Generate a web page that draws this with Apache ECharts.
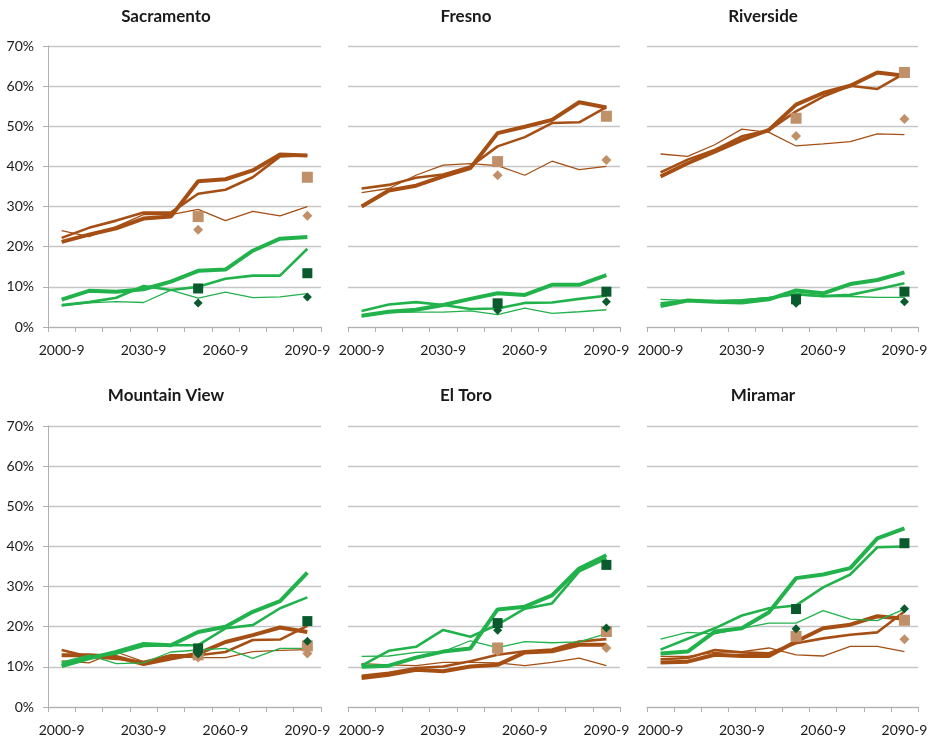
<!DOCTYPE html>
<html>
<head>
<meta charset="utf-8">
<script src="https://cdn.jsdelivr.net/npm/echarts@6/dist/echarts.min.js"></script>
<style>
  html, body { margin: 0; padding: 0; background: #fff; }
  #chart { width: 934px; height: 741px; }
</style>
</head>
<body>
<div id="chart"></div>
<script>
    "use strict";

    var decades = ['2000-9', '2010-9', '2020-9', '2030-9', '2040-9', '2050-9', '2060-9', '2070-9', '2080-9', '2090-9'];
    var markerCats = ['2050-9', '2090-9'];

    /*---- Sacramento ----*/
    var sacB1 = [21.2, 23.0, 24.6, 27.0, 27.5, 36.3, 36.8, 39.0, 43.0, 42.7];
    var sacB2 = [22.2, 24.7, 26.5, 28.5, 28.5, 33.2, 34.2, 37.3, 42.5, 42.8];
    var sacB3 = [24.0, 22.5, 25.0, 28.0, 28.0, 29.3, 26.5, 28.8, 27.7, 30.0];
    var sacG1 = [6.8, 9.0, 8.8, 9.4, 11.3, 14.0, 14.3, 19.0, 22.0, 22.4];
    var sacG2 = [5.5, 6.2, 7.3, 10.2, 9.2, 10.0, 12.0, 12.8, 12.8, 19.5];
    var sacG3 = [5.2, 6.0, 6.3, 6.1, 9.2, 7.2, 8.7, 7.3, 7.5, 8.3];
    var sacBSq = [27.5, 37.3];
    var sacBDia = [24.2, 27.7];
    var sacGSq = [9.6, 13.4];
    var sacGDia = [6.0, 7.5];

    /*---- Fresno ----*/
    var freB1 = [30.0, 34.0, 35.2, 37.5, 39.6, 48.3, 49.9, 51.6, 56.0, 54.7];
    var freB2 = [34.5, 35.4, 37.2, 38.0, 40.0, 45.0, 47.3, 50.8, 51.0, 54.8];
    var freB3 = [33.5, 34.5, 37.8, 40.3, 40.7, 40.2, 37.8, 41.3, 39.2, 40.0];
    var freG1 = [2.8, 3.8, 4.3, 5.5, 7.0, 8.4, 8.0, 10.5, 10.5, 12.9];
    var freG2 = [4.0, 5.6, 6.2, 5.5, 4.5, 4.6, 6.0, 6.1, 7.0, 7.8];
    var freG3 = [2.6, 3.6, 3.7, 3.7, 4.0, 3.1, 4.7, 3.4, 3.8, 4.3];
    var freBSq = [41.2, 52.5];
    var freBDia = [37.8, 41.6];
    var freGSq = [5.9, 8.8];
    var freGDia = [4.2, 6.3];

    /*---- Riverside ----*/
    var rivB1 = [37.5, 40.8, 43.7, 46.6, 49.1, 55.4, 58.3, 60.1, 63.4, 62.6];
    var rivB2 = [38.5, 41.7, 44.1, 47.5, 49.0, 53.7, 57.4, 60.1, 59.3, 63.2];
    var rivB3 = [43.1, 42.5, 45.4, 49.3, 48.5, 45.1, 45.6, 46.2, 48.1, 47.9];
    var rivG1 = [5.2, 6.6, 6.3, 6.1, 6.9, 9.1, 8.4, 10.7, 11.7, 13.6];
    var rivG2 = [5.9, 6.6, 6.3, 6.6, 7.2, 8.2, 7.7, 8.0, 9.4, 10.9];
    var rivG3 = [6.9, 6.6, 6.6, 6.8, 7.4, 8.0, 7.6, 7.6, 7.4, 7.4];
    var rivBSq = [52.0, 63.4];
    var rivBDia = [47.6, 51.8];
    var rivGSq = [6.9, 8.8];
    var rivGDia = [5.9, 6.3];

    /*---- Mountain View ----*/
    var mtvB1 = [12.9, 12.9, 12.5, 10.7, 12.1, 13.3, 16.2, 17.9, 19.8, 18.7];
    var mtvB2 = [14.2, 12.5, 12.0, 11.2, 12.9, 12.9, 13.7, 16.7, 16.8, 20.2];
    var mtvB3 = [11.5, 11.0, 13.7, 11.3, 12.5, 12.3, 12.3, 13.8, 14.1, 14.3];
    var mtvG1 = [10.2, 12.1, 13.7, 15.7, 15.4, 18.7, 20.0, 23.7, 26.4, 33.5];
    var mtvG2 = [10.8, 12.5, 13.3, 15.2, 15.4, 15.4, 19.6, 20.4, 24.6, 27.3];
    var mtvG3 = [11.2, 12.9, 10.8, 11.0, 13.7, 14.2, 14.6, 12.1, 14.6, 14.6];
    var mtvBSq = [13.0, 15.2];
    var mtvBDia = [12.3, 13.3];
    var mtvGSq = [14.6, 21.4];
    var mtvGDia = [13.2, 16.4];

    /*---- El Toro ----*/
    var eltB1 = [7.2, 8.0, 9.3, 8.9, 10.1, 10.5, 13.6, 13.9, 15.5, 15.5];
    var eltB2 = [7.8, 8.5, 9.7, 10.1, 11.4, 13.0, 13.9, 14.3, 16.3, 16.9];
    var eltB3 = [10.8, 10.5, 10.3, 11.1, 11.1, 11.0, 10.3, 11.1, 12.2, 10.3];
    var eltG1 = [10.0, 10.3, 12.3, 13.8, 14.6, 24.3, 25.0, 27.8, 34.5, 37.8];
    var eltG2 = [10.3, 14.0, 15.0, 19.2, 17.5, 20.5, 24.5, 25.8, 33.8, 37.0];
    var eltG3 = [12.6, 12.7, 13.6, 13.8, 16.5, 14.8, 16.3, 16.0, 16.2, 18.3];
    var eltBSq = [14.7, 18.8];
    var eltBDia = [13.9, 14.7];
    var eltGSq = [20.9, 35.4];
    var eltGDia = [19.1, 19.7];

    /*---- Miramar ----*/
    var mirB1 = [11.1, 11.3, 13.0, 12.7, 12.7, 16.3, 19.6, 20.5, 22.6, 22.0];
    var mirB2 = [11.9, 12.2, 14.2, 13.6, 13.4, 15.9, 17.1, 18.0, 18.6, 23.8];
    var mirB3 = [12.6, 12.6, 13.6, 13.8, 14.7, 13.0, 12.7, 15.1, 15.1, 13.8];
    var mirG1 = [13.3, 13.8, 18.8, 19.6, 23.6, 32.1, 33.0, 34.6, 42.0, 44.5];
    var mirG2 = [14.3, 17.0, 19.6, 22.8, 24.6, 25.3, 29.8, 33.0, 39.8, 40.0];
    var mirG3 = [16.9, 18.6, 18.2, 19.6, 20.9, 20.9, 24.0, 21.9, 21.5, 24.4];
    var mirBSq = [17.6, 21.6];
    var mirBDia = [18.4, 16.9];
    var mirGSq = [24.4, 40.8];
    var mirGDia = [19.5, 24.5];

    var titles = ['Sacramento', 'Fresno', 'Riverside', 'Mountain View', 'El Toro', 'Miramar'];
    var panels = [
        [sacB1, sacB2, sacB3, sacG1, sacG2, sacG3, sacBSq, sacBDia, sacGSq, sacGDia],
        [freB1, freB2, freB3, freG1, freG2, freG3, freBSq, freBDia, freGSq, freGDia],
        [rivB1, rivB2, rivB3, rivG1, rivG2, rivG3, rivBSq, rivBDia, rivGSq, rivGDia],
        [mtvB1, mtvB2, mtvB3, mtvG1, mtvG2, mtvG3, mtvBSq, mtvBDia, mtvGSq, mtvGDia],
        [eltB1, eltB2, eltB3, eltG1, eltG2, eltG3, eltBSq, eltBDia, eltGSq, eltGDia],
        [mirB1, mirB2, mirB3, mirG1, mirG2, mirG3, mirBSq, mirBDia, mirGSq, mirGDia]
    ];

    var brown = '#a64f14', green = '#22b24c', lightBrown = '#c09069', darkGreen = '#0a5a2e';
    var widths = [4, 2.6, 1.3];
    var gridLefts = [48, 348, 647], gridWidths = [273, 272, 271];
    var titleCenters = [166, 466, 763];
    var gridTops = [46, 426];
    var font = 'Lato, "Open Sans", sans-serif';

    var grids = [], xAxes = [], yAxes = [], titleOpts = [], series = [];

    function markerData(vals) {
        return markerCats.map(function (c, k) { return [c, vals[k]]; });
    }

    panels.forEach(function (p, i) {
        var col = i % 3, row = Math.floor(i / 3);
        grids.push({left: gridLefts[col], top: gridTops[row], width: gridWidths[col], height: 281});
        titleOpts.push({
            text: titles[i],
            left: titleCenters[col],
            top: row === 0 ? 8 : 387,
            textAlign: 'center',
            padding: 0,
            textStyle: {fontFamily: font, fontSize: 17, fontWeight: 'bold', color: '#1a1a1a'}
        });
        xAxes.push({
            gridIndex: i,
            type: 'category',
            data: decades,
            boundaryGap: true,
            axisLine: {lineStyle: {color: '#b0b0b0', width: 1}},
            axisTick: {show: true, interval: 0, length: 5, lineStyle: {color: '#b0b0b0'}},
            axisLabel: {interval: 2, color: '#1a1a1a', fontSize: 14, fontFamily: font, margin: 16},
            splitLine: {show: false}
        });
        yAxes.push({
            gridIndex: i,
            type: 'value',
            min: 0,
            max: 70,
            interval: 10,
            axisLine: {show: col === 0, lineStyle: {color: '#b0b0b0'}},
            axisTick: {show: col === 0, length: 5, lineStyle: {color: '#b0b0b0'}},
            axisLabel: {show: col === 0, formatter: '{value}%', color: '#1a1a1a', fontSize: 14, fontFamily: font, margin: 14},
            splitLine: {lineStyle: {color: '#c6c6c6', width: 1.3}}
        });

        // brown lines first, then green
        [0, 1, 2, 3, 4, 5].forEach(function (k) {
            series.push({
                type: 'line',
                xAxisIndex: i,
                yAxisIndex: i,
                data: p[k],
                symbol: 'none',
                z: k < 3 ? 2 : 3,
                lineStyle: {color: k < 3 ? brown : green, width: widths[k % 3]}
            });
        });

        series.push({type: 'scatter', xAxisIndex: i, yAxisIndex: i, data: markerData(p[6]), symbol: 'rect', symbolSize: 11, itemStyle: {color: lightBrown, opacity: 1}, z: 5});
        series.push({type: 'scatter', xAxisIndex: i, yAxisIndex: i, data: markerData(p[7]), symbol: 'diamond', symbolSize: 10, itemStyle: {color: lightBrown, opacity: 1}, z: 5});
        series.push({type: 'scatter', xAxisIndex: i, yAxisIndex: i, data: markerData(p[8]), symbol: 'rect', symbolSize: 10, itemStyle: {color: darkGreen, opacity: 1}, z: 6});
        series.push({type: 'scatter', xAxisIndex: i, yAxisIndex: i, data: markerData(p[9]), symbol: 'diamond', symbolSize: 9, itemStyle: {color: darkGreen, opacity: 1}, z: 6});
    });

    var myChart = echarts.init(document.getElementById('chart'));
    myChart.setOption({
        animation: false,
        backgroundColor: '#fff',
        title: titleOpts,
        grid: grids,
        xAxis: xAxes,
        yAxis: yAxes,
        series: series
    });
</script>
</body>
</html>
